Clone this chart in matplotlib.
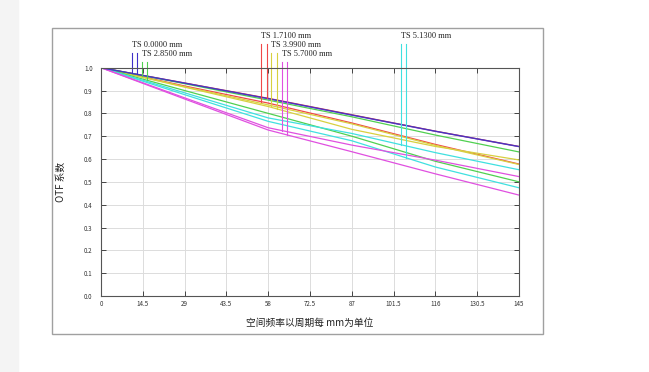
import numpy as np
import matplotlib.pyplot as plt
from matplotlib.patches import Rectangle

plt.rcParams['font.family'] = ['Noto Sans CJK SC', 'DejaVu Sans']

# spatial frequency (cycles/mm) where curve values were read
freq = [0, 29, 58, 87, 116, 145]

# MTF curves
blue_t = [1.0, 0.932, 0.864, 0.792, 0.721, 0.654]
blue_s = [1.0, 0.933, 0.865, 0.793, 0.722, 0.655]
red_s = [1.0, 0.933, 0.866, 0.794, 0.722, 0.655]
red_t = [1.0, 0.920, 0.845, 0.758, 0.664, 0.578]
yellow_t = [1.0, 0.917, 0.837, 0.754, 0.660, 0.576]
yellow_s = [1.0, 0.915, 0.830, 0.730, 0.655, 0.596]
green_t = [1.0, 0.930, 0.858, 0.785, 0.705, 0.631]
green_s = [1.0, 0.900, 0.800, 0.700, 0.590, 0.500]
cyan_t = [1.0, 0.890, 0.780, 0.712, 0.628, 0.553]
cyan_s = [1.0, 0.882, 0.765, 0.680, 0.565, 0.474]
magenta_t = [1.0, 0.868, 0.737, 0.661, 0.595, 0.523]
magenta_s = [1.0, 0.863, 0.727, 0.632, 0.535, 0.442]

# field labels and the frequencies where their marker lines touch the curves
field_labels = ["TS 0.0000 mm", "TS 1.7100 mm", "TS 2.8500 mm",
                "TS 3.9900 mm", "TS 5.1300 mm", "TS 5.7000 mm"]
marker_freq = [(10.7, 12.6), (55.4, 57.5), (14.3, 16.1),
               (58.9, 60.9), (104.0, 105.7), (62.7, 64.6)]
label_y = [1.099, 1.139, 1.059, 1.099, 1.139, 1.059]

colors = ["#4030c8", "#f04848", "#50d050", "#d8d040", "#40e0e0", "#e050e0"]
curves = [(blue_t, blue_s), (red_t, red_s), (green_t, green_s),
          (yellow_t, yellow_s), (cyan_t, cyan_s), (magenta_t, magenta_s)]

xticks = [0, 14.5, 29, 43.5, 58, 72.5, 87, 101.5, 116, 130.5, 145]
xtick_labels = ["0", "14.5", "29", "43.5", "58", "72.5", "87", "101.5", "116", "130.5", "145"]
yticks = np.round(np.arange(0, 1.01, 0.1), 1)

fig = plt.figure(figsize=(6.49, 3.72), dpi=100)
fig.patches.append(Rectangle((0, 0), 18 / 649, 1, transform=fig.transFigure,
                             color="#f4f4f4", zorder=0))
fig.patches.append(Rectangle((52 / 649, 1 - 334 / 372), 491 / 649, 306 / 372,
                             transform=fig.transFigure, fill=False,
                             edgecolor="#a0a0a0", lw=1.0, zorder=1))

ax = fig.add_axes([101 / 649, 1 - 296 / 372, 418 / 649, 228.3 / 372])

# draw S first so the T (and blue) lines sit on top
order = [1, 3, 2, 4, 5, 0]
for i in order:
    t, s = curves[i]
    a = 0.75 if i == 0 else 1.0
    ax.plot(freq, s, color=colors[i], lw=0.9, alpha=a)
    ax.plot(freq, t, color=colors[i], lw=0.9, alpha=a)

for i, lab in enumerate(field_labels):
    t, s = curves[i]
    x0, x1 = marker_freq[i]
    top = label_y[i] - 0.035
    for x, c in ((x0, t), (x1, s)):
        y_end = np.interp(x, freq, c)
        ax.plot([x, x], [y_end, top], color=colors[i], lw=0.8, clip_on=False)
    ax.text(x0, label_y[i], lab, fontsize=6, family="Liberation Serif",
            ha="left", va="center", color="#222222")

ax.set_xlim(0, 145)
ax.set_ylim(0, 1.0)
ax.set_xticks(xticks)
ax.set_xticklabels(xtick_labels)
ax.set_yticks(yticks)
ax.set_yticklabels([f"{v:.1f}" for v in yticks])
ax.grid(True, color="#dcdcdc", lw=0.7)
ax.tick_params(direction="in", length=3.5, width=0.7, color="#444444",
               labelsize=4.5, labelcolor="#333333", top=True, right=True)
ax.tick_params(axis="y", pad=6)
ax.tick_params(axis="x", pad=3)
for sp in ax.spines.values():
    sp.set_color("#555555")
    sp.set_linewidth(0.8)

ax.set_ylabel("OTF 系数", fontsize=7, color="#222222")
ax.yaxis.set_label_coords(-0.084, 0.5)
ax.set_xlabel("空间频率以周期每 mm为单位", fontsize=7, color="#222222")
ax.xaxis.set_label_coords(0.5, -0.096)

plt.savefig("out.png", dpi=100)
